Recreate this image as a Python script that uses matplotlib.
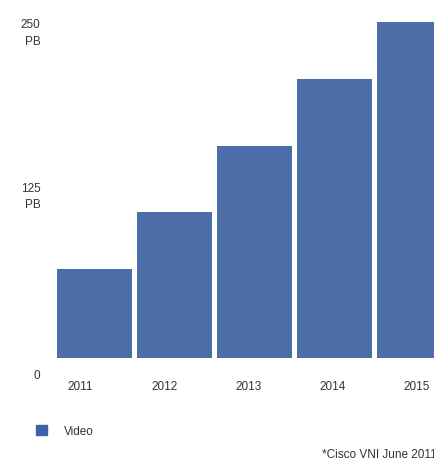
import matplotlib.pyplot as plt
from matplotlib.transforms import ScaledTranslation
from matplotlib.patches import Patch

years = ["2011", "2012", "2013", "2014", "2015"]
video_pb = [66, 108, 156, 206, 248]
ytick_vals = [0, 125, 250]
ytick_labels = ["0", "125\nPB", "250\nPB"]

plt.rcParams['font.family'] = ['Liberation Sans', 'DejaVu Sans']

fig = plt.figure(figsize=(4.34, 4.64), dpi=100)
# axes: left edge at x=57px, bottom at y=359px (from top)
ax = fig.add_axes([57 / 434, (464 - 359) / 464, 1 - 57 / 434, (359 - 10) / 464])

color = "#4b6ea8"
txt = "#333333"
fs = 8.5
pos = list(range(len(years)))
ax.bar(pos, video_pb, width=0.94, color=color, label="Video")

ax.set_xlim(-0.47, (434 - 57) / 80 - 0.47)
ax.set_ylim(0, 349 / 1.356)

for s in ax.spines.values():
    s.set_visible(False)
ax.tick_params(length=0)

ax.set_xticks(pos)
ax.set_xticklabels(years, fontsize=fs, color=txt)
ax.tick_params(axis='x', pad=16)
x_shift = [-14, -10, -6, -2, 2]
for lab, dx in zip(ax.get_xticklabels(), x_shift):
    lab.set_transform(lab.get_transform() + ScaledTranslation(dx / 100, 0, fig.dpi_scale_trans))

ax.set_yticks(ytick_vals)
ax.set_yticklabels(ytick_labels, fontsize=fs, color=txt, linespacing=1.5)
ax.tick_params(axis='y', pad=12)
y_shift = [-16, -3.5, -10]
for lab, dy in zip(ax.get_yticklabels(), y_shift):
    lab.set_transform(lab.get_transform() + ScaledTranslation(0, dy / 100, fig.dpi_scale_trans))

leg = fig.legend(handles=[Patch(color="#3d62a8", label="Video")], loc="center left",
                 bbox_to_anchor=(25 / 434, 1 - 432 / 464), frameon=False, fontsize=fs,
                 handlelength=1.0, handleheight=1.0, handletextpad=1.4)
for t in leg.get_texts():
    t.set_color(txt)

fig.text(322 / 434, 1 - 455 / 464, "*Cisco VNI June 2011", fontsize=fs, color=txt,
         va="center", ha="left")

fig.savefig("out.png", dpi=100)
